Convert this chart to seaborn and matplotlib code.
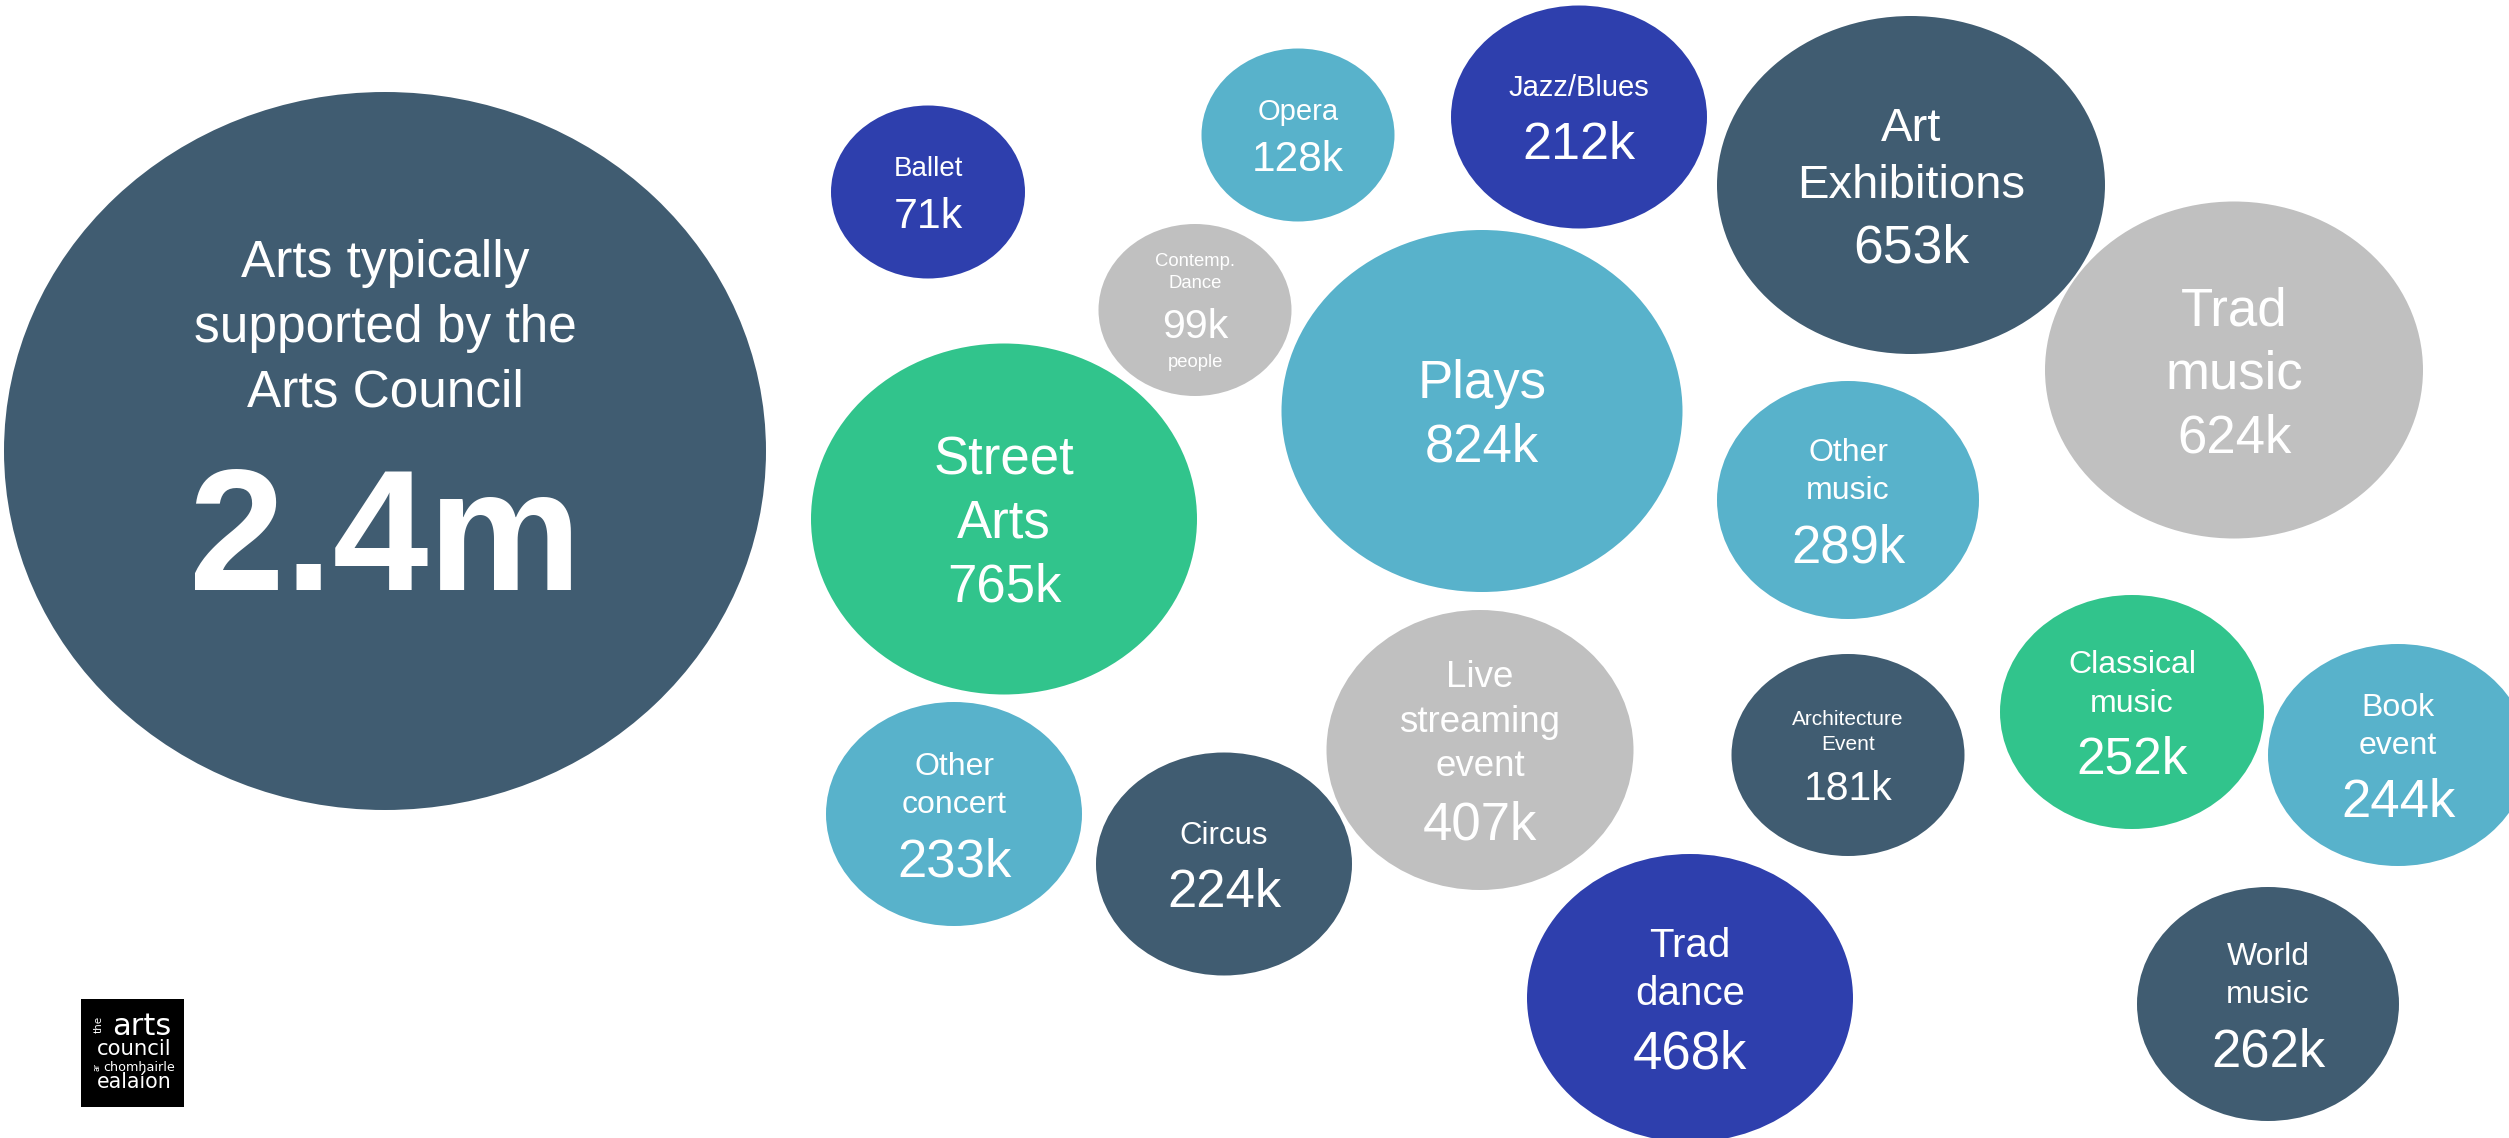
import matplotlib
matplotlib.use("Agg")
import matplotlib.pyplot as plt
from matplotlib.markers import MarkerStyle
from matplotlib.path import Path
from matplotlib.transforms import Affine2D
from matplotlib.patches import Rectangle
import pandas as pd
import seaborn as sns

# ---------------------------------------------------------------- data
headline_label = ["Arts typically", "supported by the", "Arts Council"]
headline_value = 2_400_000

categories = [
    "Ballet", "Opera", "Jazz/Blues", "Art\nExhibitions", "Contemp.\nDance",
    "Plays", "Trad\nmusic", "Street\nArts", "Other\nmusic", "Live\nstreaming\nevent",
    "Architecture\nEvent", "Classical\nmusic", "Book\nevent", "Other\nconcert",
    "Circus", "Trad\ndance", "World\nmusic",
]
attendance = [
    71_000, 128_000, 212_000, 653_000, 99_000,
    824_000, 624_000, 765_000, 289_000, 407_000,
    181_000, 252_000, 244_000, 233_000,
    224_000, 468_000, 262_000,
]
unit_note = {"Contemp.\nDance": "people"}

# -------------------------------------------------------------- layout
W, H, DPI = 2509, 1138, 100

headline_xy = (385, 451)
headline_wh = (762, 718)

bubble_x = [928, 1298, 1579, 1911, 1195, 1482, 2234, 1004, 1848, 1480,
            1848, 2132, 2398, 954, 1224, 1690, 2268]
bubble_y = [192, 135, 117, 185, 310, 411, 370, 519, 500, 750,
            755, 712, 755, 814, 864, 998, 1004]
bubble_w = [194, 193, 256, 388, 193, 401, 378, 386, 262, 307,
            233, 264, 260, 256, 256, 326, 262]
bubble_h = [173, 173, 223, 338, 172, 362, 337, 351, 238, 280,
            202, 234, 222, 224, 223, 288, 234]

SLATE, SKY, GREEN, NAVY, GREY = "#405C71", "#58B2CB", "#31C48C", "#2E3FAD", "#C0C0C0"
tones = [NAVY, SKY, NAVY, SLATE, GREY, SKY, GREY, GREEN, SKY, GREY,
         SLATE, GREEN, SKY, SKY, SLATE, NAVY, SLATE]

name_pt = [20, 21, 21, 34, 13.3, 38, 38, 38, 23, 26.5, 15, 23, 23, 23, 22.5, 29, 23]
value_pt = [31, 30.5, 37.5, 38.5, 29.5, 38, 38, 38, 38, 38, 29.5, 37, 38, 38, 38, 38, 38]

# --------------------------------------------------------------- style
sns.set_theme(style="white")
plt.rcParams["font.family"] = ["Liberation Sans", "DejaVu Sans"]

fig = plt.figure(figsize=(W / DPI, H / DPI), dpi=DPI)
ax = fig.add_axes([0, 0, 1, 1])
ax.set_xlim(0, W)
ax.set_ylim(H, 0)
ax.axis("off")

pt_per_unit = fig.get_figwidth() * 72 / W
px_per_pt = DPI / 72


def ellipse_marker(aspect):
    """Filled ellipse whose height is `aspect` times its width."""
    return MarkerStyle(Path.unit_circle().transformed(Affine2D().scale(1.0, aspect)))


keys = ["headline"] + categories
frame = pd.DataFrame({
    "key": keys,
    "x": [headline_xy[0]] + bubble_x,
    "y": [headline_xy[1]] + bubble_y,
    "w": [headline_wh[0]] + bubble_w,
    "h": [headline_wh[1]] + bubble_h,
    "tone": [SLATE] + tones,
})

palette = dict(zip(frame["key"], frame["tone"]))
markers = {k: ellipse_marker(h / w) for k, w, h in zip(frame["key"], frame["w"], frame["h"])}
sizes = {k: (w * pt_per_unit) ** 2 for k, w in zip(frame["key"], frame["w"])}

sns.scatterplot(
    data=frame, x="x", y="y",
    hue="key", palette=palette,
    style="key", markers=markers,
    size="key", sizes=sizes,
    linewidth=0, alpha=1, legend=False, ax=ax,
)


def draw_label(cx, cy, lines):
    """Stack (text, size) lines so the block sits centred on (cx, cy)."""
    ems = [pt * px_per_pt for _, pt in lines]
    base = [0.0]
    for prev, cur in zip(ems[:-1], ems[1:]):
        base.append(base[-1] + max(1.2 * cur, 0.72 * prev))
    top = base[0] - 0.716 * ems[0]
    shift = cy - (top + base[-1]) / 2
    for (txt, pt), b in zip(lines, base):
        ax.text(cx, b + shift, txt, fontsize=pt, color="white",
                ha="center", va="baseline")


for name, value, cx, cy, npt, vpt in zip(categories, attendance, bubble_x, bubble_y,
                                          name_pt, value_pt):
    lines = [(part, npt) for part in name.split("\n")]
    lines.append((f"{value / 1000:.0f}k", vpt))
    if name in unit_note:
        lines.append((unit_note[name], npt))
    draw_label(cx, cy, lines)

# headline bubble text
hx, hy = headline_xy
for line, dy in zip(headline_label, [-174, -109, -45]):
    ax.text(hx, hy + dy, line, fontsize=37, color="white", ha="center", va="baseline")
ax.text(hx, hy + 139, f"{headline_value / 1e6:.1f}m", fontsize=124, fontweight="bold",
        color="white", ha="center", va="baseline")

# Arts Council logo block
ax.add_patch(Rectangle((81, 999), 103, 108, facecolor="black", edgecolor="none", zorder=5))
logo = dict(color="white", family="DejaVu Sans", zorder=6, va="baseline")
ax.text(99, 1024, "the", fontsize=7.5, rotation=90, ha="center", va="center",
        color="white", family="DejaVu Sans", zorder=6)
ax.text(112, 1035, "arts", fontsize=22, ha="left", **logo)
ax.text(97, 1055, "council", fontsize=15.3, ha="left", **logo)
ax.text(97, 1067, "ar", fontsize=5.5, rotation=90, ha="center", va="center",
        color="white", family="DejaVu Sans", zorder=6)
ax.text(103, 1071, "chomhairle", fontsize=9.2, ha="left", **logo)
ax.text(97, 1088, "ealaíon", fontsize=14.8, ha="left", **logo)

fig.savefig("out.png", dpi=DPI, facecolor="white")
